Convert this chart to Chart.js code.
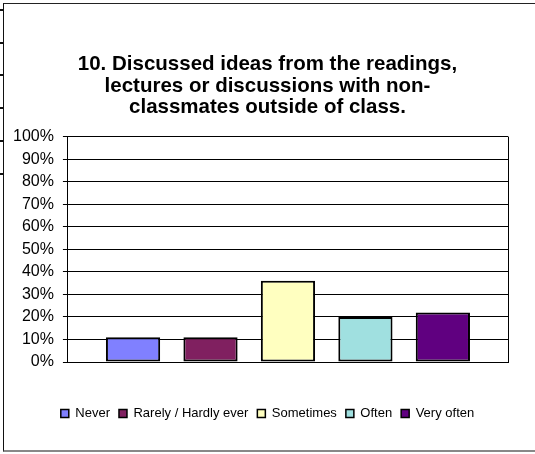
<!DOCTYPE html>
<html>
<head>
<meta charset="utf-8">
<script src="https://cdn.jsdelivr.net/npm/chart.js@4.4.1/dist/chart.umd.min.js"></script>
<style>
  html, body { margin: 0; padding: 0; background: #fff; }
  #wrap { position: relative; width: 535px; height: 454px; overflow: hidden; }
  #frame {
    position: absolute; left: 3px; top: 3px; right: -2px; height: 446px;
    border-left: 1px solid #111; border-top: 1px solid #222; border-bottom: 2px solid #888;
  }
  .nick { position: absolute; left: 0; width: 3px; height: 2px; background: #111; }
  canvas { position: absolute; left: 0; top: 0; }
</style>
</head>
<body>
<div id="wrap">
  <div id="frame"></div>
  <div class="nick" style="top:9px"></div>
  <div class="nick" style="top:42px"></div>
  <div class="nick" style="top:74px"></div>
  <div class="nick" style="top:107px"></div>
  <div class="nick" style="top:140px"></div>
  <div class="nick" style="top:173px"></div>
  <canvas id="bar-chart1" width="535" height="454"></canvas>
</div>
<script>
// survey answers, percent of respondents
const answers = ['Never', 'Rarely / Hardly ever', 'Sometimes', 'Often', 'Very often'];
const shares = [11, 11, 36, 20, 22];
const fills = ['#8080FF', '#802060', '#FFFFC0', '#A0E0E0', '#600080'];
const yTicks = [0, 10, 20, 30, 40, 50, 60, 70, 80, 90, 100];
const titleLines = [
  '10. Discussed ideas from the readings,',
  'lectures or discussions with non-',
  'classmates outside of class.'
];

const font = '"Liberation Sans", Arial, sans-serif';

let datasets = answers.map((name, i) => ({
  label: name,
  data: [shares[i]],
  backgroundColor: fills[i],
  borderColor: '#000',
  borderWidth: 2,
  borderSkipped: false,
  categoryPercentage: 0.88,
  barPercentage: 0.7
}));

let myBarChart1 = new Chart(document.getElementById('bar-chart1'), {
  type: 'bar',
  data: { labels: [''], datasets: datasets },
  options: {
    responsive: false,
    animation: false,
    layout: { padding: { left: 0, right: 0, top: 0, bottom: 24 } },
    plugins: {
      tooltip: { enabled: false },
      title: {
        display: true,
        text: titleLines,
        color: '#000',
        font: { family: font, size: 20.5, weight: 'bold', lineHeight: 1.05 },
        padding: { top: 54, bottom: 18 }
      },
      legend: {
        position: 'bottom',
        labels: {
          color: '#000',
          font: { family: font, size: 13 },
          boxWidth: 8,
          boxHeight: 8,
          padding: 9,
          generateLabels: (chart) => chart.data.datasets.map((ds, i) => ({
            text: ds.label,
            fillStyle: ds.backgroundColor,
            strokeStyle: '#000',
            lineWidth: 1.5,
            datasetIndex: i
          }))
        }
      }
    },
    scales: {
      x: {
        grid: { display: true, drawOnChartArea: true, drawTicks: false, color: '#000', offset: true },
        border: { display: true, color: '#000' },
        ticks: { display: false },
        afterFit: (axis) => { axis.height += 36; }
      },
      y: {
        min: 0,
        max: 100,
        afterBuildTicks: (axis) => { axis.ticks = yTicks.map(v => ({ value: v })); },
        grid: { color: '#000', tickLength: 5 },
        border: { display: true, color: '#000' },
        ticks: {
          color: '#000',
          padding: 9,
          font: { family: font, size: 16 },
          callback: (v) => v + '%'
        },
        afterFit: (axis) => { axis.width += 4; }
      },
      // empty axis on the right, only keeps the margin
      margin: {
        position: 'right',
        grid: { display: false, drawTicks: false },
        border: { display: false },
        ticks: { display: false },
        afterFit: (axis) => { axis.width = 27; }
      }
    }
  }
});
</script>
</body>
</html>
